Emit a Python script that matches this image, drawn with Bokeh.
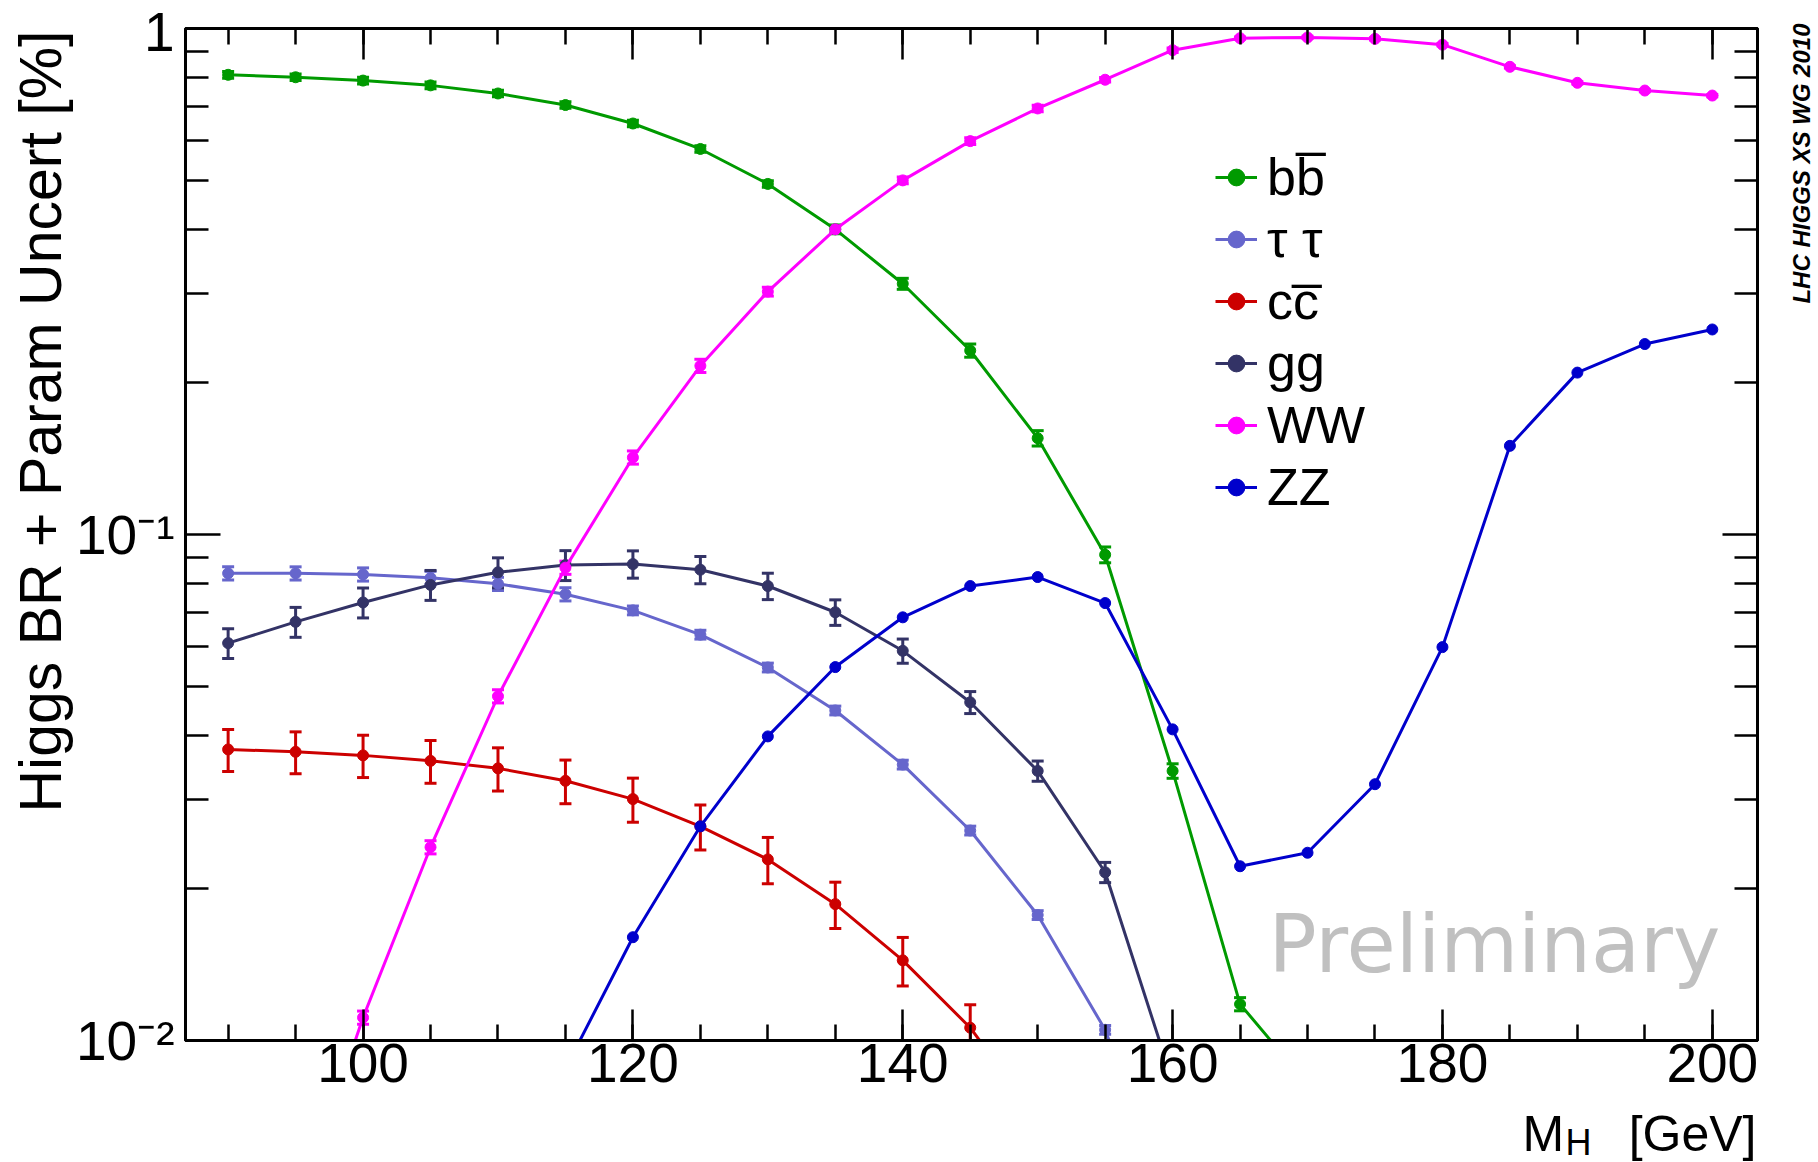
import math
from bokeh.plotting import figure
from bokeh.layouts import row, column
from bokeh.models import (LinearAxis, LogAxis, SingleIntervalTicker, FixedTicker, Label,
                          Legend, LegendItem, Whisker, TeeHead, ColumnDataSource,
                          CustomJSTickFormatter, Range1d, Title)
from bokeh.embed import file_html
from bokeh.resources import INLINE

# ---------------- data ----------------
bb_mass = [90, 95, 100, 105, 110, 115, 120, 125, 130, 135, 140, 145, 150, 155, 160, 165, 170]
bb_br = [0.810, 0.801, 0.789, 0.772, 0.744, 0.706, 0.649, 0.578, 0.493, 0.401,
         0.313, 0.231, 0.155, 0.0912, 0.0341, 0.0118, 0.0082]
bb_err = [0.015, 0.015, 0.015, 0.015, 0.015, 0.015, 0.015, 0.015, 0.015, 0.02,
          0.025, 0.03, 0.035, 0.036, 0.033, 0.03, 0.03]

tau_mass = [90, 95, 100, 105, 110, 115, 120, 125, 130, 135, 140, 145, 150, 155, 160]
tau_br = [0.0838, 0.0838, 0.0834, 0.0821, 0.0799, 0.0762, 0.0708, 0.0634, 0.0546,
          0.0449, 0.0351, 0.0260, 0.0177, 0.0105, 0.0046]
tau_err = [0.03, 0.03, 0.03, 0.03, 0.03, 0.03, 0.02, 0.02, 0.02, 0.02, 0.02, 0.02,
           0.02, 0.02, 0.02]

cc_mass = [90, 95, 100, 105, 110, 115, 120, 125, 130, 135, 140, 145, 150]
cc_br = [0.0376, 0.0372, 0.0366, 0.0357, 0.0345, 0.0326, 0.0300, 0.0265, 0.0228,
         0.0186, 0.0144, 0.0106, 0.0070]
cc_err = [0.095, 0.095, 0.096, 0.097, 0.098, 0.099, 0.10, 0.102, 0.105, 0.105,
          0.11, 0.11, 0.11]

gg_mass = [90, 95, 100, 105, 110, 115, 120, 125, 130, 135, 140, 145, 150, 155, 160]
gg_br = [0.0610, 0.0672, 0.0734, 0.0795, 0.0842, 0.0870, 0.0874, 0.0852, 0.0791,
         0.0702, 0.0589, 0.0466, 0.0341, 0.0215, 0.0083]
gg_err = [0.068, 0.068, 0.068, 0.068, 0.068, 0.068, 0.062, 0.062, 0.060, 0.058,
          0.055, 0.05, 0.046, 0.046, 0.046]

ww_mass = [90, 95, 100, 105, 110, 115, 120, 125, 130, 135, 140, 145, 150, 155, 160,
           165, 170, 175, 180, 185, 190, 195, 200]
ww_br = [0.0017, 0.0045, 0.0111, 0.0241, 0.0479, 0.0860, 0.142, 0.2155, 0.302, 0.401,
         0.501, 0.599, 0.695, 0.792, 0.906, 0.957, 0.960, 0.954, 0.929, 0.840, 0.781,
         0.754, 0.737]
ww_err = [0.03, 0.03, 0.03, 0.03, 0.03, 0.03, 0.03, 0.03, 0.02, 0.015, 0.015, 0.015,
          0.015, 0.01, 0.01, 0.005, 0.005, 0.005, 0.005, 0.005, 0.005, 0.005, 0.005]

zz_mass = [115, 120, 125, 130, 135, 140, 145, 150, 155, 160, 165, 170, 175, 180, 185,
           190, 195, 200]
zz_br = [0.0088, 0.0160, 0.0265, 0.0399, 0.0547, 0.0686, 0.0791, 0.0824, 0.0732,
         0.0412, 0.0221, 0.0235, 0.0321, 0.0599, 0.1497, 0.2089, 0.2379, 0.2542]

series = [
    ("bb\u0305", bb_mass, bb_br, bb_err, "#009a00"),
    ("\u03c4 \u03c4", tau_mass, tau_br, tau_err, "#6666cc"),
    ("cc\u0305", cc_mass, cc_br, cc_err, "#cc0000"),
    ("gg", gg_mass, gg_br, gg_err, "#333366"),
    ("WW", ww_mass, ww_br, ww_err, "#ff00ff"),
    ("ZZ", zz_mass, zz_br, None, "#0000cc"),
]

x_ticks_major = 20
y_major_ticks = [0.01, 0.1, 1.0]
y_minor_ticks = [0.02, 0.03, 0.04, 0.05, 0.06, 0.07, 0.08, 0.09,
                 0.2, 0.3, 0.4, 0.5, 0.6, 0.7, 0.8, 0.9]

FONT = "Liberation Sans"
BORDER_L, BORDER_R = 185, 23

# ---------------- main figure ----------------
p = figure(width=1780, height=1105, x_range=Range1d(86.84, 203.35),
           y_range=Range1d(0.01, 1.0), y_axis_type="log",
           output_backend="svg", toolbar_location=None,
           min_border_left=BORDER_L, min_border_right=BORDER_R, min_border_top=28,
           min_border_bottom=65)
p.background_fill_color = "white"
p.border_fill_color = "white"
p.xgrid.visible = False
p.ygrid.visible = False
p.outline_line_color = "black"
p.outline_line_width = 3

ytick_js = CustomJSTickFormatter(code="""
const e = Math.round(Math.log10(tick));
if (e === 0) return "1";
const sup = {"-": "\u207b", "0": "\u2070", "1": "\u00b9", "2": "\u00b2", "3": "\u00b3"};
return "10" + String(e).split("").map(c => sup[c]).join("");
""")
blank = CustomJSTickFormatter(code="return '';")

def style_x(ax, labels=True):
    ax.ticker = SingleIntervalTicker(interval=x_ticks_major, num_minor_ticks=4)
    ax.axis_line_width = 3
    ax.major_tick_in = 31
    ax.major_tick_out = 0
    ax.minor_tick_in = 16
    ax.minor_tick_out = 0
    ax.major_tick_line_width = 2.5
    ax.minor_tick_line_width = 2.5
    if labels:
        ax.major_label_text_font = FONT
        ax.major_label_text_font_size = "55px"
        ax.major_label_standoff = 3
        ax.major_label_text_color = "black"
    else:
        ax.formatter = blank
        ax.major_label_text_font_size = "1px"
        ax.major_label_standoff = 0

def style_y(ax, labels=True):
    ax.ticker = FixedTicker(ticks=y_major_ticks, minor_ticks=y_minor_ticks)
    ax.axis_line_width = 3
    ax.major_tick_in = 35
    ax.major_tick_out = 0
    ax.minor_tick_in = 23
    ax.minor_tick_out = 0
    ax.major_tick_line_width = 2.5
    ax.minor_tick_line_width = 2.5
    if labels:
        ax.formatter = ytick_js
        ax.major_label_text_font = FONT
        ax.major_label_text_font_size = "55px"
        ax.major_label_standoff = 11
        ax.major_label_text_color = "black"
    else:
        ax.formatter = blank
        ax.major_label_text_font_size = "1px"
        ax.major_label_standoff = 0

style_x(p.xaxis[0])
style_y(p.yaxis[0])
top_ax = LinearAxis()
style_x(top_ax, labels=False)
p.add_layout(top_ax, "above")
right_ax = LogAxis()
style_y(right_ax, labels=False)
p.add_layout(right_ax, "right")

# ---------------- series ----------------
items = []
for name, xs, ys, errs, col in series:
    if errs is not None:
        up = [y * (1 + e) for y, e in zip(ys, errs)]
        lo = [y * (1 - e) for y, e in zip(ys, errs)]
        src_e = ColumnDataSource(dict(x=xs, upper=up, lower=lo))
        w = Whisker(source=src_e, base="x", upper="upper", lower="lower",
                    line_color=col, line_width=3,
                    upper_head=TeeHead(size=12, line_color=col, line_width=3),
                    lower_head=TeeHead(size=12, line_color=col, line_width=3))
        p.add_layout(w)
    src = ColumnDataSource(dict(x=xs, y=ys))
    lr = p.line("x", "y", source=src, line_color=col, line_width=3)
    sr = p.scatter("x", "y", source=src, marker="circle", size=11,
                   fill_color=col, line_color=col)
    items.append(LegendItem(label=name, renderers=[lr, sr]))

legend = Legend(items=items, location=(1030, 522))
legend.label_text_font = FONT
legend.label_text_font_size = "52px"
legend.label_text_color = "black"
legend.label_standoff = 10
legend.label_height = 62
legend.glyph_height = 62
legend.glyph_width = 42
legend.spacing = 0
legend.padding = 0
legend.margin = 0
legend.background_fill_alpha = 0
legend.border_line_alpha = 0
p.add_layout(legend)

ytitle = Title(text="Higgs BR + Param Uncert [%]", align="right", offset=2, standoff=0,
               text_font=FONT, text_font_size="59px", text_font_style="normal",
               text_color="black")
p.add_layout(ytitle, "left")

p.add_layout(Label(x=1083, y=96, x_units="screen", y_units="screen", text="Preliminary",
                   text_align="left", text_baseline="middle",
                   text_font="DejaVu Sans", text_font_size="80px", text_color="#c0c0c0"))

# ---------------- strips carrying the texts outside the frame ----------------
def strip(w, h, left=0, right=0):
    s = figure(width=w, height=h, x_range=Range1d(0, 1), y_range=Range1d(0, 1),
               output_backend="svg", toolbar_location=None,
               min_border_left=left, min_border_right=right,
               min_border_top=0, min_border_bottom=0,
               x_axis_location=None, y_axis_location=None)
    s.grid.visible = False
    s.outline_line_color = None
    s.background_fill_color = "white"
    s.border_fill_color = "white"
    return s

# bottom strip: its frame lines up with the main frame (185 .. 1757)
bstrip = strip(1780, 57, BORDER_L, BORDER_R)
bstrip.add_layout(Label(x=1337, y=28.5, x_units="screen", y_units="screen", text="M",
                        text_align="left", text_baseline="middle",
                        text_font=FONT, text_font_size="50px", text_color="black"))
bstrip.add_layout(Label(x=1380, y=20.5, x_units="screen", y_units="screen", text="H",
                        text_align="left", text_baseline="middle",
                        text_font=FONT, text_font_size="36px", text_color="black"))
bstrip.add_layout(Label(x=1571, y=28.5, x_units="screen", y_units="screen", text="[GeV]",
                        text_align="right", text_baseline="middle",
                        text_font=FONT, text_font_size="50px", text_color="black"))

rstrip = strip(38, 1162)
rstrip.add_layout(Label(x=21, y=1139, x_units="screen", y_units="screen",
                        text="LHC HIGGS XS WG 2010", angle=math.pi / 2,
                        text_align="right", text_baseline="middle",
                        text_font=FONT, text_font_size="24px",
                        text_font_style="bold italic", text_color="black"))

layout = row(column(p, bstrip, spacing=0), rstrip, spacing=0)

open("out.html", "w").write(file_html(layout, INLINE))
